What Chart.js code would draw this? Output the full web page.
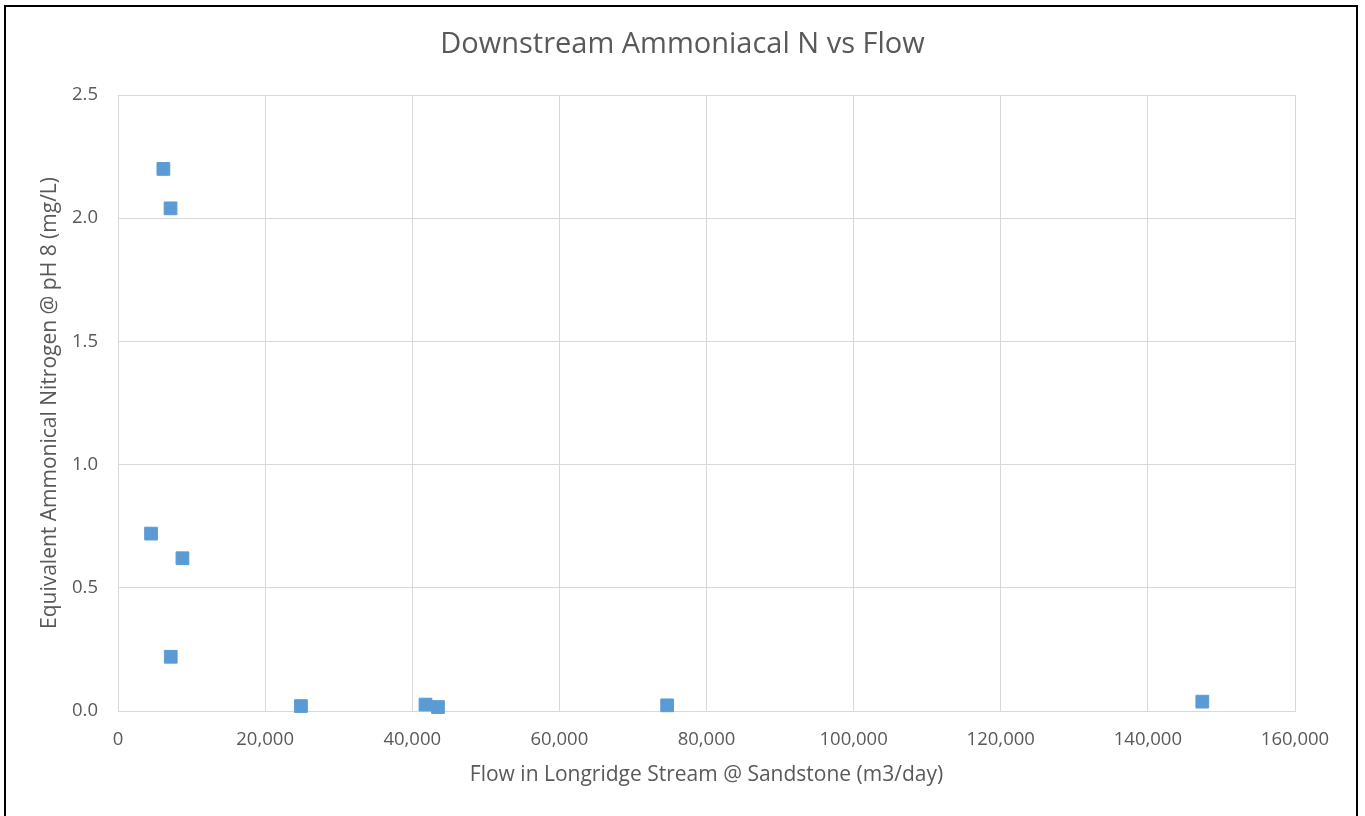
<!DOCTYPE html>
<html>
<head>
<meta charset="utf-8">
<title>Downstream Ammoniacal N vs Flow</title>
<script src="https://cdn.jsdelivr.net/npm/chart.js@4/dist/chart.umd.min.js"></script>
<style>
  html, body { margin: 0; padding: 0; background: #ffffff; overflow: hidden; }
  #wrap { position: relative; width: 1365px; height: 816px; }
  #chart { position: absolute; left: 0; top: 0; }
  #frame {
    position: absolute; left: 4px; top: 5px;
    width: 1350px; height: 900px;
    border: 2px solid #000000; pointer-events: none;
  }
</style>
</head>
<body>
<div id="wrap">
  <canvas id="chart" width="1365" height="816"></canvas>
  <div id="frame"></div>
</div>
<script>
// Flow at Sandstone (m3/day) and matching downstream ammoniacal N (mg/L)
const flowValues = [6170, 7140, 4490, 8760, 7170, 24870, 41800, 43500, 74650, 147400];
const ammoniaValues = [2.20, 2.04, 0.72, 0.62, 0.22, 0.02, 0.026, 0.016, 0.023, 0.038];

const chartTitle = 'Downstream Ammoniacal N vs Flow';
const xTitle = 'Flow in Longridge Stream @ Sandstone (m3/day)';
const yTitle = 'Equivalent Ammonical Nitrogen @ pH 8 (mg/L)';

const xTicks = { min: 0, max: 160000, step: 20000 };
const yTicks = { min: 0, max: 2.5, step: 0.5 };

const points = flowValues.map((x, i) => ({ x: x, y: ammoniaValues[i] }));

const FONT = "'Open Sans', 'Liberation Sans', sans-serif";
const TEXT = '#595959';
const GRID = '#d9d9d9';
const MARK = '#5b9bd5';

new Chart(document.getElementById('chart'), {
  type: 'scatter',
  data: {
    datasets: [{
      data: points,
      pointStyle: 'rect',
      pointRadius: 9,
      pointHoverRadius: 9,
      backgroundColor: MARK,
      borderColor: MARK,
      borderWidth: 1,
      clip: false
    }]
  },
  options: {
    responsive: false,
    animation: false,
    events: [],
    layout: { padding: { left: 0, right: 0, top: 0, bottom: 0 } },
    plugins: {
      legend: { display: false },
      tooltip: { enabled: false },
      title: {
        display: true,
        text: chartTitle,
        color: TEXT,
        font: { family: FONT, size: 29, weight: 'normal' },
        padding: { top: 27, bottom: 33.2 }
      }
    },
    scales: {
      x: {
        type: 'linear',
        min: xTicks.min,
        max: xTicks.max,
        afterFit: s => { s.height = 105; },
        ticks: {
          stepSize: xTicks.step,
          color: TEXT,
          padding: 18,
          maxRotation: 0,
          font: { family: FONT, size: 18.5 },
          callback: v => Number(v).toLocaleString('en-US')
        },
        grid: { color: GRID, lineWidth: 1, drawTicks: false },
        border: { color: GRID, width: 1 },
        title: {
          display: true,
          text: xTitle,
          color: TEXT,
          font: { family: FONT, size: 21 },
          padding: { top: 0, bottom: 28.4 }
        }
      },
      y: {
        type: 'linear',
        min: yTicks.min,
        max: yTicks.max,
        afterFit: s => { s.width = 118; },
        ticks: {
          stepSize: yTicks.step,
          color: TEXT,
          padding: 20,
          font: { family: FONT, size: 18.5 },
          callback: v => Number(v).toFixed(1)
        },
        grid: { color: GRID, lineWidth: 1, drawTicks: false },
        border: { color: GRID, width: 1 },
        title: {
          display: true,
          text: yTitle,
          color: TEXT,
          font: { family: FONT, size: 21 },
          padding: { top: 37.4, bottom: 0 }
        }
      },
      yRight: {
        type: 'linear',
        position: 'right',
        display: true,
        min: yTicks.min,
        max: yTicks.max,
        afterFit: s => { s.width = 70; },
        ticks: { display: false },
        grid: { display: false, drawTicks: false },
        border: { display: false }
      }
    }
  }
});
</script>
</body>
</html>
